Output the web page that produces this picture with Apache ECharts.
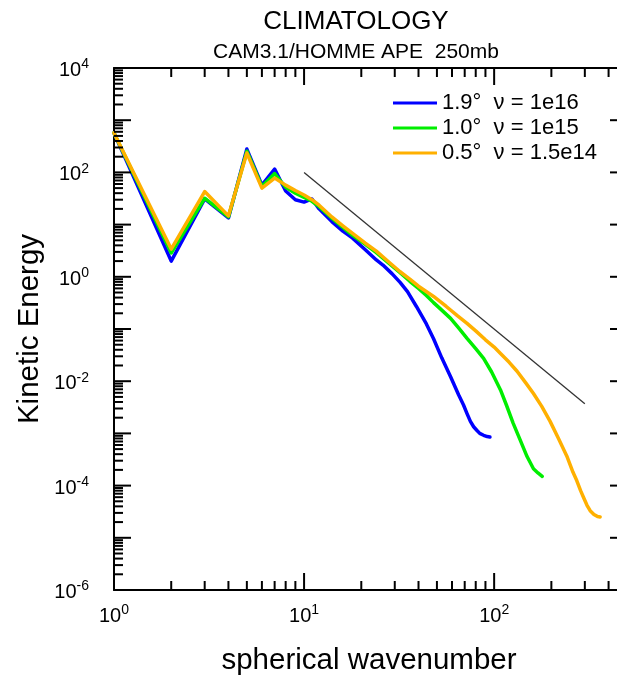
<!DOCTYPE html>
<html>
<head>
<meta charset="utf-8">
<script src="https://cdn.jsdelivr.net/npm/echarts@6/dist/echarts.min.js"></script>
<style>
  html, body { margin: 0; padding: 0; background: #ffffff; }
  #chart { width: 617px; height: 677px; }
</style>
</head>
<body>
<div id="chart"></div>
<script>
// Kinetic energy spectra at 250 mb, one pair of arrays per resolution
const k19 = [1, 2, 3, 4, 5, 6, 7, 8, 9, 10, 11, 12, 14, 16, 18, 21, 24, 26, 29, 32, 35, 39, 44, 48, 53, 59, 65, 69, 72, 75, 78, 81, 84, 88, 92, 95];
const e19 = [570, 2.0, 31, 13.4, 280, 57, 116, 44, 30, 27, 31, 20, 11.4, 7.5, 5.5, 3.3, 2.1, 1.68, 1.15, 0.78, 0.52, 0.27, 0.125, 0.065, 0.028, 0.0122, 0.0055, 0.0035, 0.0024, 0.0017, 0.00134, 0.00115, 0.001, 0.00092, 0.00087, 0.00085];

const k10 = [1, 2, 3, 4, 5, 6, 7, 8, 9, 10, 11, 12, 14, 16, 18, 21, 24, 28, 32, 36, 40, 44, 48, 53, 59, 65, 72, 80, 88, 97, 108, 116, 126, 137, 149, 161, 170, 179];
const e10 = [570, 2.86, 32, 14, 255, 54, 95, 52, 40, 33, 28, 22, 13.3, 8.8, 6.2, 4.2, 2.9, 1.8, 1.2, 0.82, 0.6, 0.44, 0.32, 0.23, 0.16, 0.105, 0.066, 0.042, 0.0275, 0.015, 0.0068, 0.0035, 0.00156, 0.00075, 0.00036, 0.00021, 0.000175, 0.00015];

const k05 = [1, 2, 3, 4, 5, 6, 7, 8, 9, 10, 11, 12, 14, 16, 18, 21, 24, 28, 32, 36, 40, 48, 56, 64, 72, 80, 90, 100, 108, 120, 132, 146, 161, 178, 197, 218, 241, 260, 272, 285, 295, 308, 320, 335, 350, 361];
const e05 = [570, 3.4, 43, 14.7, 235, 50, 78, 57, 45, 37, 30, 23.5, 14, 9.5, 6.8, 4.4, 3.1, 1.9, 1.25, 0.9, 0.66, 0.42, 0.27, 0.18, 0.128, 0.092, 0.062, 0.045, 0.034, 0.023, 0.0155, 0.0095, 0.0058, 0.0033, 0.0017, 0.0008, 0.00037, 0.00018, 0.000125, 0.00008, 0.00006, 0.000042, 0.000033, 0.000028, 0.0000255, 0.000025];

// k^-3 reference slope
const refK = [10, 300];
const refE = [100, 0.0037];

const seriesNames = ['1.9°  ν = 1e16', '1.0°  ν = 1e15', '0.5°  ν = 1.5e14'];
const seriesColors = ['#0000ff', '#00ee00', '#ffb000'];

// axis decades, labelled decades and the minor steps inside a decade
const xDecades = [1, 10, 100];
const yDecades = [1e-6, 1e-5, 1e-4, 1e-3, 1e-2, 1e-1, 1, 10, 100, 1000, 10000];
const yLabelDecades = [1e-6, 1e-4, 1e-2, 1, 100, 10000];
const minorSteps = [2, 3, 4, 5, 6, 7, 8, 9];

const X_MIN = 1, X_MAX = 500, Y_MIN = 1e-6, Y_MAX = 1e4;
const FONT = '"Liberation Sans", Arial, Helvetica, sans-serif';

function zip(xs, ys) { return xs.map((x, i) => [x, ys[i]]); }
function minorsOf(decades, hi) {
  const out = [];
  decades.forEach(d => minorSteps.forEach(s => { const v = d * s; if (v < hi) out.push(v); }));
  return out;
}

const MAJOR_LEN = 17, MINOR_LEN = 9;
const tickStyle = { stroke: '#000', lineWidth: 2 };

// tick marks on all four sides, placed through the axis scales
function tickMarks(values, axis, len) {
  return {
    type: 'custom', coordinateSystem: 'cartesian2d', xAxisIndex: 0, yAxisIndex: 0,
    silent: true, clip: false, z: 6,
    data: values.map(v => axis === 'x' ? [v, Y_MIN] : [X_MIN, v]),
    renderItem(params, api) {
      if (axis === 'x') {
        const v = api.value(0);
        const b = api.coord([v, Y_MIN]);
        const t = api.coord([v, Y_MAX]);
        return { type: 'group', children: [
          { type: 'line', shape: { x1: b[0], y1: b[1], x2: b[0], y2: b[1] - len }, style: tickStyle },
          { type: 'line', shape: { x1: t[0], y1: t[1], x2: t[0], y2: t[1] + len }, style: tickStyle }
        ] };
      }
      const v = api.value(1);
      const l = api.coord([X_MIN, v]);
      const r = api.coord([X_MAX, v]);
      return { type: 'group', children: [
        { type: 'line', shape: { x1: l[0], y1: l[1], x2: l[0] + len, y2: l[1] }, style: tickStyle },
        { type: 'line', shape: { x1: r[0], y1: r[1], x2: r[0] - len, y2: r[1] }, style: tickStyle }
      ] };
    }
  };
}

// power-of-ten labels such as 10^-6
const RICH = {
  b: { fontSize: 20, fontFamily: FONT, color: '#000', padding: [5, 0, 0, 0] },
  s: { fontSize: 14, fontFamily: FONT, color: '#000', verticalAlign: 'top', padding: [2, 0, 0, 0] }
};
const powerLabel = v => '{b|10}{s|' + Math.round(Math.log10(v)) + '}';

const lineSeries = [zip(k19, e19), zip(k10, e10), zip(k05, e05)].map((d, i) => ({
  name: seriesNames[i], type: 'line', data: d, color: seriesColors[i],
  showSymbol: false, symbol: 'none', z: 3,
  lineStyle: { width: 3.5, color: seriesColors[i], join: 'round', cap: 'round' }
}));

const chart = echarts.init(document.getElementById('chart'));

const logAxis = (extra) => Object.assign({
  type: 'log', logBase: 10,
  axisLine: { show: true, onZero: false, lineStyle: { color: '#000', width: 2 } },
  axisTick: { show: false }, axisLabel: { show: false }, splitLine: { show: false }
}, extra);

const titleText = (text, x, y, size, rotation) => ({
  type: 'text', x: x, y: y, rotation: rotation || 0, silent: true,
  style: { text: text, font: size + 'px ' + FONT, fill: '#000',
    align: 'center', verticalAlign: 'middle', textAlign: 'center', textVerticalAlign: 'middle' }
});

chart.setOption({
  animation: false,
  backgroundColor: '#ffffff',
  // the right-hand frame sits just past the page edge
  grid: { left: 114, top: 68, width: 513, height: 522, containLabel: false, outerBoundsMode: 'none' },
  xAxis: [
    logAxis({ position: 'bottom', min: X_MIN, max: X_MAX,
      axisLabel: { show: true, customValues: xDecades, formatter: powerLabel, margin: 11,
        rich: RICH, hideOverlap: false, showMinLabel: true, showMaxLabel: true } }),
    logAxis({ position: 'top', min: X_MIN, max: X_MAX })
  ],
  yAxis: [
    logAxis({ position: 'left', min: Y_MIN, max: Y_MAX,
      axisLabel: { show: true, customValues: yLabelDecades, formatter: powerLabel, margin: 25,
        rich: RICH, hideOverlap: false, showMinLabel: true, showMaxLabel: true } }),
    logAxis({ position: 'right', min: Y_MIN, max: Y_MAX })
  ],
  legend: {
    data: seriesNames, orient: 'vertical', left: 393, top: 92, padding: 0,
    icon: 'rect', itemWidth: 44, itemHeight: 3, itemGap: 3,
    textStyle: { fontSize: 22, fontFamily: FONT, color: '#000' },
    selectedMode: false
  },
  graphic: [
    titleText('CLIMATOLOGY', 356, 22, 26),
    titleText('CAM3.1/HOMME APE  250mb', 356, 52, 21),
    titleText('Kinetic Energy', 30, 329, 29.5, Math.PI / 2),
    titleText('spherical wavenumber', 369, 661, 29.5)
  ],
  series: lineSeries.concat([
    { name: 'k-3', type: 'line', data: zip(refK, refE), showSymbol: false, symbol: 'none', z: 2,
      color: '#333', lineStyle: { width: 1.3, color: '#333' } },
    tickMarks(xDecades, 'x', MAJOR_LEN),
    tickMarks(minorsOf(xDecades, X_MAX), 'x', MINOR_LEN),
    tickMarks(yDecades, 'y', MAJOR_LEN),
    tickMarks(minorsOf(yDecades.slice(0, -1), Y_MAX), 'y', MINOR_LEN)
  ])
});
</script>
</body>
</html>
